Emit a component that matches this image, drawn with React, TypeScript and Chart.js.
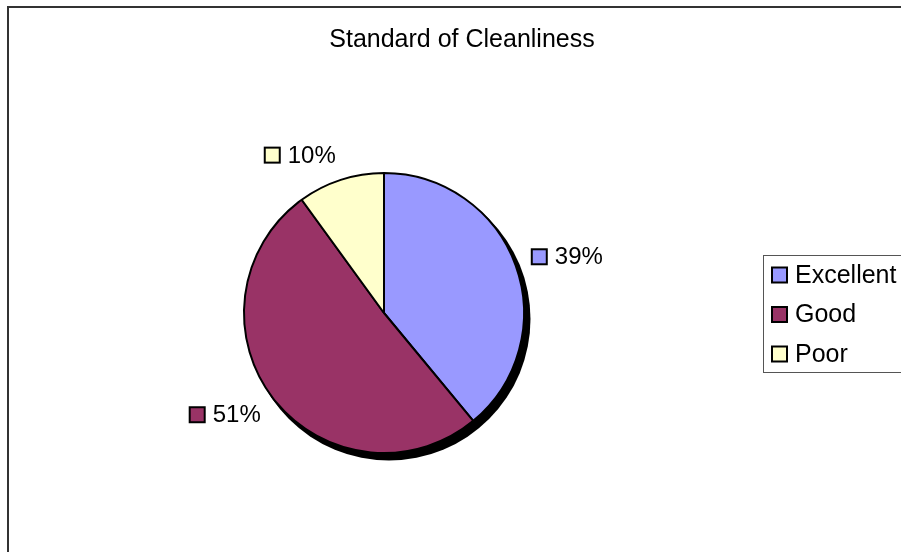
import React, { useEffect, useRef } from "react";
import { Chart, registerables } from "chart.js";

Chart.register(...registerables);

const TITLE = "Standard of Cleanliness";
const categories = ["Excellent", "Good", "Poor"];
const shares = [39, 51, 10];
const sliceColors = ["#9999FF", "#993366", "#FFFFCC"];

const FONT = '"Liberation Sans", Arial, sans-serif';

// Swatch used by data labels and the legend
function drawSwatch(ctx: CanvasRenderingContext2D, x: number, y: number, size: number, color: string) {
  ctx.fillStyle = "#000";
  ctx.fillRect(x, y, size, size);
  ctx.fillStyle = color;
  ctx.fillRect(x + 2, y + 2, size - 4, size - 4);
}

const shadowPlugin = {
  id: "pieShadow",
  beforeDatasetsDraw(chart: any) {
    const meta = chart.getDatasetMeta(0);
    const arc = meta.data[0];
    if (!arc) return;
    const { x, y, outerRadius } = arc.getProps(["x", "y", "outerRadius"], true);
    const ctx = chart.ctx;
    ctx.save();
    ctx.fillStyle = "#000";
    ctx.beginPath();
    ctx.arc(x + 5, y + 6, outerRadius + 1.5, 0, Math.PI * 2);
    ctx.fill();
    ctx.restore();
  },
};

const decorPlugin = {
  id: "decor",
  afterDraw(chart: any) {
    const ctx: CanvasRenderingContext2D = chart.ctx;
    ctx.save();

    // frame
    ctx.strokeStyle = "#333";
    ctx.lineWidth = 2;
    ctx.strokeRect(8, 7, 1000, 1000);

    // title
    ctx.fillStyle = "#000";
    ctx.font = `25px ${FONT}`;
    ctx.textAlign = "center";
    ctx.textBaseline = "middle";
    ctx.fillText(TITLE, 462, 40);

    // data labels, placed outside each slice along its mid-angle
    const meta = chart.getDatasetMeta(0);
    const total = shares.reduce((a, b) => a + b, 0);
    ctx.font = `24px ${FONT}`;
    ctx.textAlign = "left";
    const sq = 17;
    const gap = 7;
    meta.data.forEach((arc: any, i: number) => {
      const { x, y, startAngle, endAngle, outerRadius } = arc.getProps(
        ["x", "y", "startAngle", "endAngle", "outerRadius"],
        true
      );
      const mid = (startAngle + endAngle) / 2;
      const r = outerRadius + 16;
      const ax = x + Math.cos(mid) * r;
      const cy = y + Math.sin(mid) * (r + 10);
      const text = `${Math.round((shares[i] / total) * 100)}%`;
      const w = sq + gap + ctx.measureText(text).width;
      const left = Math.cos(mid) >= 0 ? ax : ax - w;
      drawSwatch(ctx, left, cy - sq / 2, sq, sliceColors[i]);
      ctx.fillStyle = "#000";
      ctx.fillText(text, left + sq + gap, cy + 1);
    });

    // legend
    ctx.strokeStyle = "#555";
    ctx.lineWidth = 1;
    ctx.strokeRect(763.5, 255.5, 200, 117);
    ctx.font = `25px ${FONT}`;
    categories.forEach((name, i) => {
      const cy = 275 + i * 39.5;
      drawSwatch(ctx, 771, cy - 8.5, 17, sliceColors[i]);
      ctx.fillStyle = "#000";
      ctx.fillText(name, 795, cy + 1);
    });

    ctx.restore();
  },
};

export default function App() {
  const canvasRef = useRef<HTMLCanvasElement | null>(null);

  useEffect(() => {
    const canvas = canvasRef.current;
    if (!canvas) return;
    const chart = new Chart(canvas, {
      type: "pie",
      data: {
        labels: categories,
        datasets: [
          {
            data: shares,
            backgroundColor: sliceColors,
            borderColor: "#000",
            borderWidth: 2,
          },
        ],
      },
      options: {
        responsive: false,
        animation: false,
        radius: 140,
        layout: { padding: { left: 100, right: 233, top: 100, bottom: 26 } },
        plugins: {
          legend: { display: false },
          title: { display: false },
          tooltip: { enabled: false },
        },
      } as any,
      plugins: [shadowPlugin, decorPlugin],
    });
    return () => chart.destroy();
  }, []);

  return (
    <div style={{ position: "fixed", left: 0, top: 0, background: "#fff" }}>
      <canvas ref={canvasRef} width={901} height={552} style={{ display: "block" }} />
    </div>
  );
}
